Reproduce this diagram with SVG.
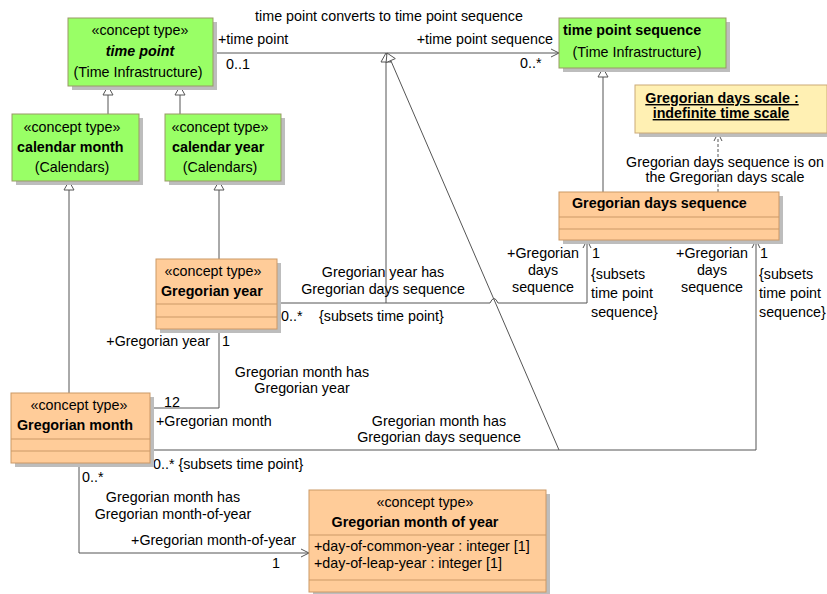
<svg xmlns="http://www.w3.org/2000/svg" width="827" height="594" viewBox="0 0 827 594">
<defs>
<style>
text{font-family:"Liberation Sans",Arial,sans-serif;font-size:14.3px;fill:#000}
.b{font-weight:bold}
.bi{font-weight:bold;font-style:italic}
.m{text-anchor:middle}
.e{text-anchor:end}
.u{text-decoration:underline;font-weight:bold}
.sh{fill:#BDBDBD}
.g{fill:#99FF66;stroke:#999966;stroke-width:1}
.o{fill:#FFCC99;stroke:#CC9966;stroke-width:1}
.n{fill:#FFF0B3;stroke:#CCAA77;stroke-width:1}
.cl{stroke:#CC9966;stroke-width:1}
.ln{fill:none;stroke:#555;stroke-width:1}
.tri{fill:#fff;stroke:#555;stroke-width:1}
.dash{fill:none;stroke:#555;stroke-width:1;stroke-dasharray:3,2}
</style>
<marker id="open" markerWidth="10" markerHeight="10" refX="8" refY="4" orient="auto" markerUnits="userSpaceOnUse" viewBox="0 0 10 8">
<path d="M0,0 L8,4 L0,8" fill="none" stroke="#555" stroke-width="1"/>
</marker>
</defs>

<g id="connectors">
<!-- generalizations -->
<line class="ln" x1="108" y1="114" x2="108" y2="95"/><path class="tri" d="M108,86 L113,95 L103,95 Z"/>
<line class="ln" x1="180" y1="114" x2="180" y2="95"/><path class="tri" d="M180,86 L185,95 L175,95 Z"/>
<line class="ln" x1="219" y1="259" x2="219" y2="190"/><path class="tri" d="M219,181 L224,190 L214,190 Z"/>
<line class="ln" x1="69" y1="393" x2="69" y2="190"/><path class="tri" d="M69,181 L74,190 L64,190 Z"/>
<line class="ln" x1="603" y1="192" x2="603" y2="77"/><path class="tri" d="M603,68 L608,77 L598,77 Z"/>
<!-- association generalizations -->
<line class="ln" x1="386" y1="303" x2="386" y2="62"/><path class="tri" d="M386,53 L391,62 L381,62 Z"/>
<line class="ln" x1="559" y1="450" x2="391" y2="61"/><path class="tri" d="M387,53 L395.3,58.6 L386.1,62.6 Z"/>
<!-- time point converts to time point sequence -->
<line class="ln" x1="213" y1="53" x2="559" y2="53" marker-end="url(#open)"/>
<!-- Gregorian year has Gregorian days sequence -->
<path class="ln" d="M277,303 H490 Q494,294 498,303 H587 V240" marker-end="url(#open)"/>
<!-- Gregorian month has Gregorian days sequence -->
<path class="ln" d="M150,450 H756 V240" marker-end="url(#open)"/>
<!-- Gregorian month has Gregorian year -->
<path class="ln" d="M150,408 H219 V329"/>
<!-- Gregorian month has Gregorian month-of-year -->
<path class="ln" d="M79,463 V553 H309" marker-end="url(#open)"/>
<!-- dependency -->
<line class="dash" x1="718" y1="192" x2="718" y2="133" marker-end="url(#open)"/>

<!-- connector labels -->
<text class="m" x="389" y="21">time point converts to time point sequence</text>
<text x="218" y="44">+time point</text>
<text x="226" y="69">0..1</text>
<text class="e" x="553" y="44">+time point sequence</text>
<text x="520" y="68">0..*</text>
<text class="m" x="725" y="167">Gregorian days sequence is on</text>
<text class="m" x="725" y="182">the Gregorian days scale</text>
<text class="m" x="383" y="277">Gregorian year has</text>
<text class="m" x="383" y="294">Gregorian days sequence</text>
<text x="281" y="321">0..*</text>
<text x="319" y="321">{subsets time point}</text>
<text class="m" x="543" y="258">+Gregorian</text>
<text class="m" x="543" y="275">days</text>
<text class="m" x="543" y="292">sequence</text>
<text x="592" y="258">1</text>
<text x="591" y="279">{subsets</text>
<text x="591" y="298">time point</text>
<text x="591" y="317">sequence}</text>
<text class="m" x="712" y="258">+Gregorian</text>
<text class="m" x="712" y="275">days</text>
<text class="m" x="712" y="292">sequence</text>
<text x="760" y="258">1</text>
<text x="759" y="279">{subsets</text>
<text x="759" y="298">time point</text>
<text x="759" y="317">sequence}</text>
<text class="e" x="210" y="346">+Gregorian year</text>
<text x="222" y="346">1</text>
<text class="m" x="302" y="377">Gregorian month has</text>
<text class="m" x="302" y="393">Gregorian year</text>
<text x="164" y="407">12</text>
<text x="156" y="426">+Gregorian month</text>
<text class="m" x="439" y="426">Gregorian month has</text>
<text class="m" x="439" y="442">Gregorian days sequence</text>
<text x="153" y="469">0..* {subsets time point}</text>
<text x="82" y="482">0..*</text>
<text class="m" x="173" y="502">Gregorian month has</text>
<text class="m" x="173" y="519">Gregorian month-of-year</text>
<text class="e" x="296" y="545">+Gregorian month-of-year</text>
<text x="272" y="568">1</text>
</g>

<g id="time-point">
<rect class="sh" x="72" y="22" width="145" height="68"/>
<rect class="g" x="68" y="18" width="145" height="68"/>
<text class="m" x="140" y="35">«concept type»</text>
<text class="m bi" x="140" y="56">time point</text>
<text class="m" x="138" y="77">(Time Infrastructure)</text>
</g>

<g id="calendar-month">
<rect class="sh" x="16" y="118" width="127" height="67"/>
<rect class="g" x="12" y="114" width="127" height="67"/>
<text class="m" x="72" y="132">«concept type»</text>
<text class="b" x="17" y="152">calendar month</text>
<text class="m" x="72" y="172">(Calendars)</text>
</g>

<g id="calendar-year">
<rect class="sh" x="169" y="118" width="116" height="67"/>
<rect class="g" x="165" y="114" width="116" height="67"/>
<text class="m" x="220" y="132">«concept type»</text>
<text class="b" x="172" y="152">calendar year</text>
<text class="m" x="220" y="172">(Calendars)</text>
</g>

<g id="time-point-sequence">
<rect class="sh" x="563" y="22" width="167" height="50"/>
<rect class="g" x="559" y="18" width="167" height="50"/>
<text class="b" x="563" y="35">time point sequence</text>
<text class="m" x="637" y="57">(Time Infrastructure)</text>
</g>

<g id="gregorian-days-scale">
<rect class="sh" x="639" y="89" width="190" height="48"/>
<rect class="n" x="635" y="85" width="192" height="48"/>
<text class="m u" x="722" y="103">Gregorian days scale :</text>
<text class="m u" x="721" y="118">indefinite time scale</text>
</g>

<g id="gregorian-days-sequence">
<rect class="sh" x="563" y="196" width="220" height="48"/>
<rect class="o" x="559" y="192" width="220" height="48"/>
<line class="cl" x1="559" y1="217" x2="779" y2="217"/>
<line class="cl" x1="559" y1="229" x2="779" y2="229"/>
<text class="b" x="572" y="208">Gregorian days sequence</text>
</g>

<g id="gregorian-year">
<rect class="sh" x="160" y="263" width="121" height="70"/>
<rect class="o" x="156" y="259" width="121" height="70"/>
<line class="cl" x1="156" y1="304" x2="277" y2="304"/>
<line class="cl" x1="156" y1="317" x2="277" y2="317"/>
<text class="m" x="213" y="276">«concept type»</text>
<text class="b" x="161" y="296">Gregorian year</text>
</g>

<g id="gregorian-month">
<rect class="sh" x="15" y="397" width="139" height="70"/>
<rect class="o" x="11" y="393" width="139" height="70"/>
<line class="cl" x1="11" y1="439" x2="150" y2="439"/>
<line class="cl" x1="11" y1="451" x2="150" y2="451"/>
<text class="m" x="79" y="410">«concept type»</text>
<text class="b" x="17" y="430">Gregorian month</text>
</g>

<g id="gregorian-month-of-year">
<rect class="sh" x="313" y="494" width="237" height="102"/>
<rect class="o" x="309" y="490" width="237" height="102"/>
<line class="cl" x1="309" y1="535" x2="546" y2="535"/>
<line class="cl" x1="309" y1="580" x2="546" y2="580"/>
<text class="m" x="425" y="507">«concept type»</text>
<text class="m b" x="415" y="527">Gregorian month of year</text>
<text x="314" y="551">+day-of-common-year : integer [1]</text>
<text x="314" y="568">+day-of-leap-year : integer [1]</text>
</g>
</svg>
